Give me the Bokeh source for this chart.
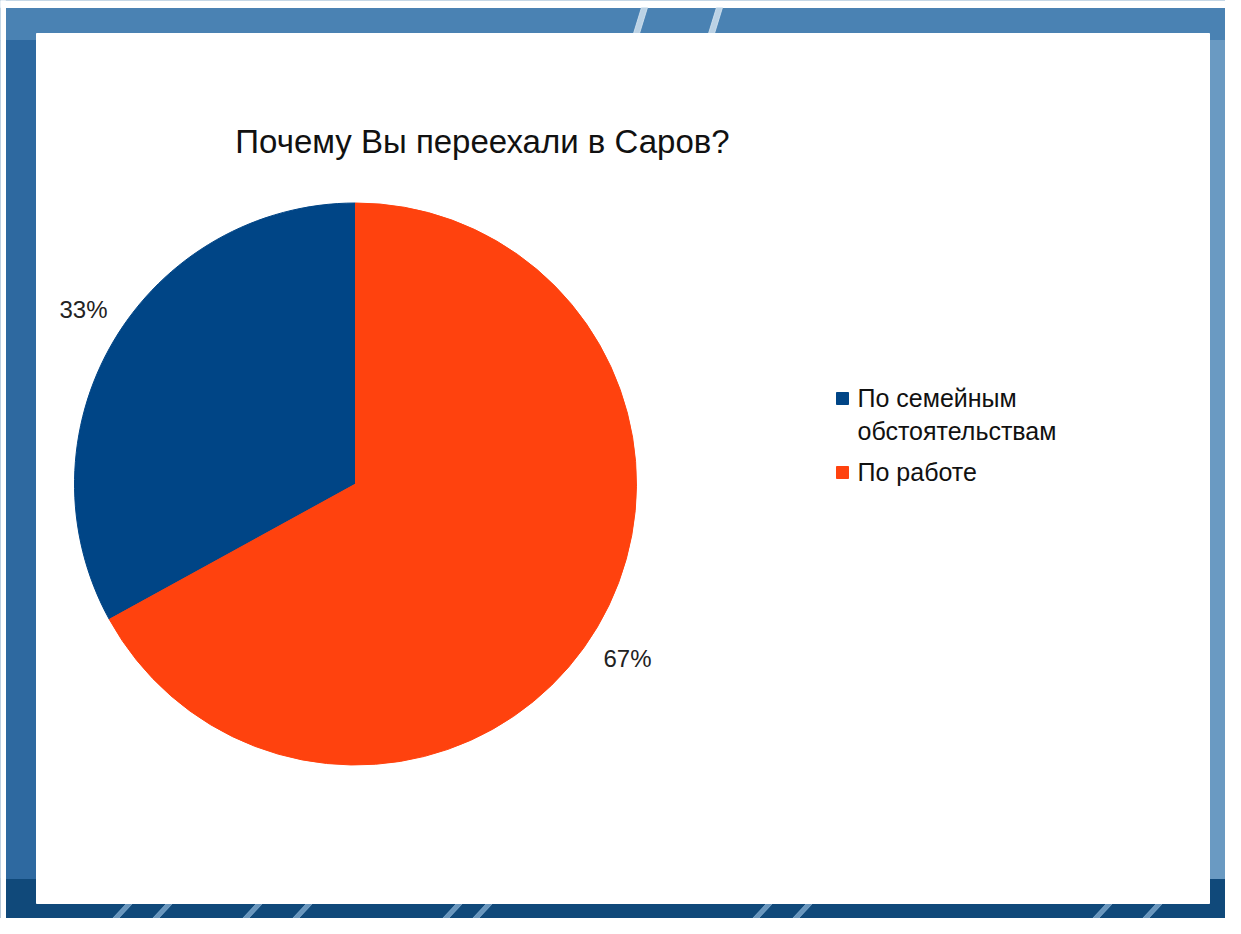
import math
from bokeh.plotting import figure
from bokeh.models import Range1d, ColumnDataSource
from bokeh.core.properties import value
from bokeh.embed import file_html
from bokeh.resources import INLINE

# ---- data ----
title = "Почему Вы переехали в Саров?"
categories = ["По семейным\nобстоятельствам", "По работе"]
shares = [33, 67]
pct_labels = ["33%", "67%"]
colors = ["#004586", "#ff420e"]

W, H = 1225, 918  # data units == screen pixels; data y = H - screen y

p = figure(width=W, height=H, output_backend="svg", toolbar_location=None,
           x_range=Range1d(0, W), y_range=Range1d(0, H), min_border=0)
p.axis.visible = False
p.grid.visible = False
p.outline_line_color = None
p.background_fill_color = "#2b6799"
p.border_fill_color = "#2b6799"

# decorative slide frame
p.quad(left=0, right=W, bottom=0, top=40, color="#10497a")
p.quad(left=0, right=W, bottom=H - 40, top=H, color="#4a82b3")
p.quad(left=0, right=36, bottom=40, top=H - 40, color="#2e69a0")
p.quad(left=1209, right=W, bottom=40, top=H - 40, color="#6a9ac2")
p.quad(left=0, right=5, bottom=0, top=H, color="white")
p.quad(left=0, right=W, bottom=H - 7, top=H, color="white")
for sx in [120, 160, 250, 300, 450, 480, 760, 800, 1100, 1150]:
    p.patch([sx - 8, sx - 2, sx + 12, sx + 6], [0, 0, 15, 15], color="#8fb6d8", alpha=0.7)
for sx in [637, 712]:
    p.patch([sx - 4, sx + 2, sx + 10, sx + 4], [H - 33, H - 33, H - 7, H - 7], color="#d7e6f1", alpha=0.8)

# white panel
p.quad(left=36, right=1209, bottom=15, top=H - 33, color="white")

# ---- pie ----
cx, cy, r = 355, H - 483.5, 281
total = sum(shares)
starts, ends, mids = [], [], []
a = math.pi / 2
for s in shares:
    sweep = s / total * 2 * math.pi
    starts.append(a)
    ends.append(a + sweep)
    mids.append(a + sweep / 2)
    a += sweep

src = ColumnDataSource(dict(start=starts, end=ends, color=colors))
p.wedge(x=cx, y=cy, radius=r, start_angle="start", end_angle="end",
        direction="anticlock", fill_color="color", line_color="color", source=src)

lrx, lry = 316, 342
lx = [cx + lrx * math.cos(m) for m in mids]
ly = [cy + lry * math.sin(m) for m in mids]
p.text(x=lx, y=ly, text=pct_labels, text_font=value("Liberation Sans"),
       text_font_size="24px", text_color="#222222", text_align="center",
       text_baseline="middle")

# title
p.text(x=[482], y=[H - 141], text=[title], text_font=value("Liberation Sans"),
       text_font_size="33px", text_color="#111111", text_align="center",
       text_baseline="middle")

# legend
leg_sq_y = [H - 398, H - 472]
p.scatter(x=[842] * 2, y=leg_sq_y, marker="square", size=12,
          fill_color=colors, line_color=colors)
leg_text_y = [H - 414, H - 471]
p.text(x=[857] * 2, y=leg_text_y, text=categories, text_font=value("Liberation Sans"),
       text_font_size="25px", text_color="#111111", text_align="left",
       text_baseline="middle", text_line_height=1.15)

open("out.html", "w").write(file_html(p, INLINE))
